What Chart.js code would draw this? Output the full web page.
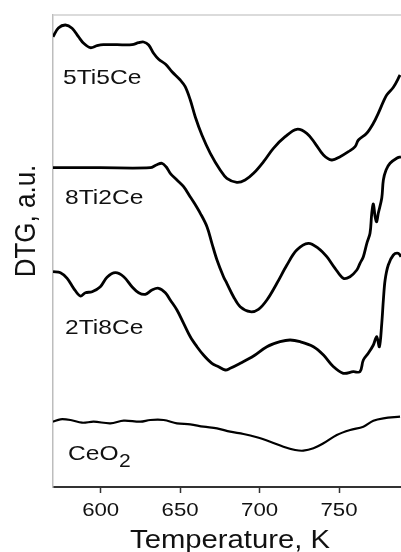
<!DOCTYPE html>
<html>
<head>
<meta charset="utf-8">
<script src="https://cdn.jsdelivr.net/npm/chart.js@4.4.1/dist/chart.umd.min.js"></script>
<style>
  html, body { margin: 0; padding: 0; background: #fff; }
  canvas { display: block; }
</style>
</head>
<body>
<canvas id="dtgChart" width="401" height="552"></canvas>
<script>
// DTG curves, temperature in K; signal in a.u. with the stacking offsets of the figure
const temp5Ti5Ce = [570.0, 573.4, 577.8, 582.0, 586.0, 589.3, 593.5, 597.7, 601.7, 610.3, 619.7, 623.9, 627.0, 630.2, 633.3, 636.5, 640.7, 644.9, 650.1, 653.2, 656.4, 659.5, 663.7, 669.0, 675.2, 679.4, 685.7, 690.9, 696.2, 702.5, 708.7, 716.1, 723.4, 729.7, 734.9, 740.2, 745.4, 750.7, 755.9, 760.1, 762.2, 767.4, 771.6, 774.7, 777.9, 780.0, 784.2, 788.4];
const dtg5Ti5Ce = [450.3, 459.0, 462.0, 458.7, 450.3, 443.7, 439.3, 441.3, 442.3, 442.3, 442.3, 444.3, 445.0, 442.0, 433.7, 427.7, 423.0, 415.3, 407.0, 400.3, 387.0, 370.3, 352.0, 333.7, 317.0, 308.7, 304.7, 307.0, 313.7, 325.3, 338.7, 350.3, 357.7, 353.7, 343.7, 332.0, 327.0, 330.3, 335.3, 340.3, 347.0, 353.7, 363.7, 373.7, 385.3, 392.0, 399.7, 412.0];

const temp8Ti2Ce = [570.0, 599.8, 631.2, 635.0, 638.6, 641.3, 643.8, 648.0, 652.2, 656.4, 658.5, 662.7, 666.9, 670.0, 673.2, 677.3, 679.4, 683.6, 687.8, 694.1, 699.3, 704.6, 710.9, 717.2, 723.4, 730.7, 737.0, 742.3, 747.5, 752.7, 756.9, 761.2, 763.2, 765.3, 767.5, 769.5, 770.6, 771.6, 772.7, 773.7, 774.7, 776.9, 777.9, 779.6, 782.1, 786.3, 789.0];
const dtg8Ti2Ce = [319.3, 319.3, 319.3, 322.0, 323.7, 320.0, 313.7, 307.0, 300.3, 290.0, 285.0, 273.7, 260.3, 243.7, 227.0, 210.3, 203.7, 190.3, 180.3, 175.3, 177.7, 187.0, 203.7, 222.0, 237.0, 243.7, 238.7, 230.3, 218.7, 208.7, 210.3, 217.0, 223.7, 230.3, 243.7, 253.7, 273.7, 283.0, 270.3, 265.3, 273.7, 289.0, 307.0, 317.0, 323.7, 328.7, 330.3];

const temp2Ti8Ce = [570.0, 574.7, 578.9, 583.0, 587.2, 590.4, 594.6, 599.8, 604.0, 609.2, 614.5, 619.7, 623.9, 628.1, 632.3, 636.5, 640.7, 643.8, 648.0, 652.2, 656.4, 660.6, 664.7, 670.0, 674.2, 678.4, 681.5, 687.8, 696.2, 704.6, 712.9, 719.2, 725.5, 733.9, 740.2, 746.5, 752.7, 759.0, 763.2, 765.3, 768.4, 771.6, 773.7, 775.4, 776.9, 777.9, 779.0, 781.0, 784.2, 787.3, 789.0];
const dtg2Ti8Ce = [215.3, 214.3, 208.7, 198.7, 191.0, 194.3, 195.3, 200.3, 209.7, 214.3, 210.3, 200.3, 194.3, 192.7, 197.0, 198.7, 194.3, 187.0, 177.0, 163.7, 150.3, 140.3, 132.0, 123.7, 120.3, 117.0, 118.7, 123.7, 131.0, 140.3, 145.3, 147.0, 145.3, 140.3, 132.0, 120.3, 113.7, 115.3, 115.3, 127.0, 133.7, 142.0, 150.3, 140.3, 163.7, 187.0, 207.0, 222.0, 232.0, 233.7, 230.3];

const tempCeO2 = [570.0, 574.7, 581.0, 588.3, 595.6, 606.1, 614.5, 625.0, 631.2, 639.6, 648.0, 656.4, 664.7, 673.2, 681.5, 689.9, 698.3, 706.7, 715.0, 722.4, 727.6, 733.9, 740.2, 748.6, 757.0, 765.3, 771.6, 777.9, 788.4];
const dtgCeO2 = [65.3, 67.7, 67.0, 64.3, 65.3, 63.7, 66.3, 65.3, 67.0, 67.0, 63.7, 62.7, 60.3, 58.7, 55.3, 53.0, 49.7, 45.3, 40.3, 37.0, 36.3, 38.7, 43.7, 52.0, 57.0, 60.3, 66.3, 68.7, 70.3];

const tickTemps = [600, 650, 700, 750];

// the source figure is stretched horizontally, so text is too
const SX = 1.17;

function toPoints(xs, ys) {
    return xs.map((x, i) => ({ x: x, y: ys[i] }));
}

function stretchedText(ctx, text, x, y, size, align) {
    ctx.save();
    ctx.font = size + 'px "Liberation Sans", Arial, sans-serif';
    ctx.textAlign = align || 'left';
    ctx.textBaseline = 'alphabetic';
    ctx.fillStyle = '#111';
    ctx.translate(x, y);
    ctx.scale(SX, 1);
    ctx.fillText(text, 0, 0);
    ctx.restore();
}

const textPlugin = {
    id: 'dtgText',
    afterDraw(chart) {
        const ctx = chart.ctx;
        const area = chart.chartArea;
        const xScale = chart.scales.x;

        // light frame line on top
        ctx.save();
        ctx.strokeStyle = '#cfcfcf';
        ctx.lineWidth = 1.5;
        ctx.beginPath();
        ctx.moveTo(area.left, area.top);
        ctx.lineTo(area.right, area.top);
        ctx.stroke();
        ctx.restore();

        // tick labels
        xScale.ticks.forEach(t => {
            stretchedText(ctx, String(t.value), xScale.getPixelForValue(t.value), 516, 19, 'center');
        });

        // axis titles
        stretchedText(ctx, 'Temperature, K', 230, 548, 25, 'center');

        ctx.save();
        ctx.font = '26px "Liberation Sans", Arial, sans-serif';
        ctx.textAlign = 'center';
        ctx.textBaseline = 'alphabetic';
        ctx.fillStyle = '#111';
        ctx.translate(35, 221);
        ctx.scale(SX, 1);
        ctx.rotate(-Math.PI / 2);
        ctx.fillText('DTG, a.u.', 0, 0);
        ctx.restore();

        // curve labels
        stretchedText(ctx, '5Ti5Ce', 63, 83.5, 21);
        stretchedText(ctx, '8Ti2Ce', 65, 203.5, 21);
        stretchedText(ctx, '2Ti8Ce', 65, 334, 21);
        stretchedText(ctx, 'CeO', 68, 460, 21);
        ctx.save();
        ctx.font = '21px "Liberation Sans", Arial, sans-serif';
        const w = ctx.measureText('CeO').width * SX;
        ctx.restore();
        stretchedText(ctx, '2', 68 + w + 0.5, 467, 18);
    }
};

const lineStyle = {
    borderColor: '#000',
    borderWidth: 2.8,
    pointRadius: 0,
    fill: false,
    tension: 0.35
};

new Chart(document.getElementById('dtgChart'), {
    type: 'line',
    data: {
        datasets: [
            Object.assign({ label: '5Ti5Ce', data: toPoints(temp5Ti5Ce, dtg5Ti5Ce) }, lineStyle),
            Object.assign({ label: '8Ti2Ce', data: toPoints(temp8Ti2Ce, dtg8Ti2Ce) }, lineStyle),
            Object.assign({ label: '2Ti8Ce', data: toPoints(temp2Ti8Ce, dtg2Ti8Ce) }, lineStyle),
            Object.assign({ label: 'CeO2', data: toPoints(tempCeO2, dtgCeO2) }, lineStyle, { borderWidth: 2.2 })
        ]
    },
    options: {
        responsive: false,
        animation: false,
        layout: { padding: { top: 15, right: 0, bottom: 0, left: 0 } },
        plugins: {
            legend: { display: false },
            tooltip: { enabled: false }
        },
        scales: {
            x: {
                type: 'linear',
                min: 570,
                max: 789,
                afterBuildTicks: s => { s.ticks = tickTemps.map(v => ({ value: v })); },
                afterFit: s => { s.height = 65; },
                ticks: { display: false },
                grid: { drawOnChartArea: false, tickLength: 6, tickColor: '#333', tickWidth: 1.5 },
                border: { color: '#333', width: 2 }
            },
            y: {
                type: 'linear',
                min: 0,
                max: 472,
                afterFit: s => { s.width = 53; },
                ticks: { display: false },
                grid: { display: false },
                border: { color: '#bdbdbd', width: 1.5 }
            }
        }
    },
    plugins: [textPlugin]
});
</script>
</body>
</html>
